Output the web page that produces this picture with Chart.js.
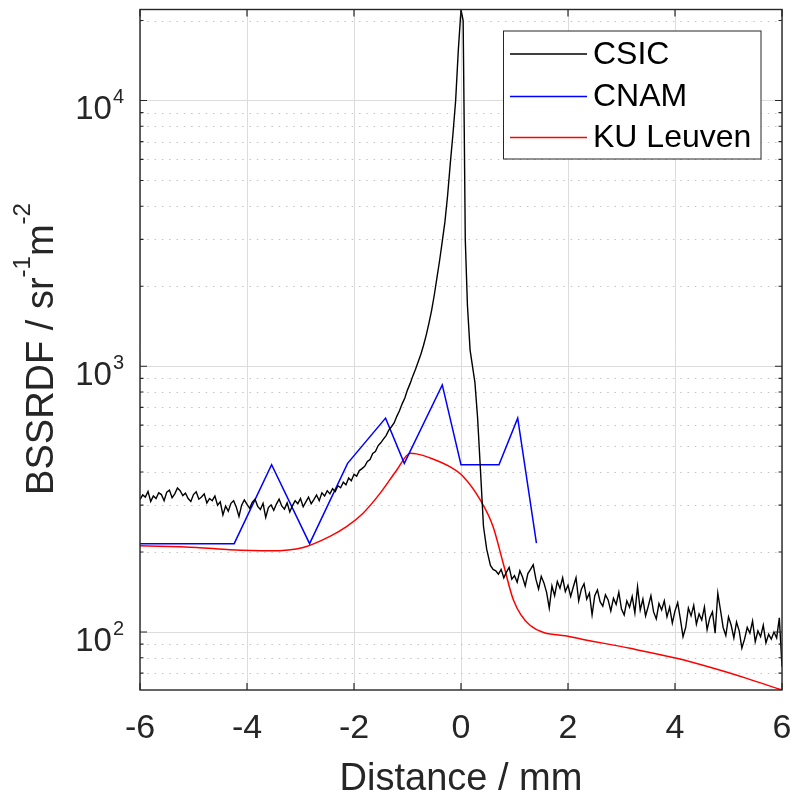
<!DOCTYPE html>
<html>
<head>
<meta charset="utf-8">
<script src="https://cdn.jsdelivr.net/npm/chart.js@4.4.0/dist/chart.umd.min.js"></script>
<style>
  html, body { margin: 0; padding: 0; background: #fff; }
</style>
</head>
<body>
<canvas id="chart" width="796" height="797"></canvas>
<script>
const csicX = [
  -6.00, -5.95, -5.90, -5.85, -5.80, -5.75, -5.70, -5.65, -5.60, -5.55,
  -5.50, -5.45, -5.40, -5.35, -5.30, -5.25, -5.20, -5.15, -5.10, -5.05,
  -5.00, -4.95, -4.90, -4.85, -4.80, -4.75, -4.70, -4.65, -4.60, -4.55,
  -4.50, -4.45, -4.40, -4.35, -4.30, -4.25, -4.20, -4.15, -4.10, -4.05,
  -4.00, -3.95, -3.90, -3.85, -3.80, -3.75, -3.70, -3.65, -3.60, -3.55,
  -3.50, -3.45, -3.40, -3.35, -3.30, -3.25, -3.20, -3.15, -3.10, -3.05,
  -3.00, -2.95, -2.90, -2.85, -2.80, -2.75, -2.70, -2.65, -2.60, -2.55,
  -2.50, -2.45, -2.40, -2.35, -2.30, -2.25, -2.20, -2.15, -2.10, -2.05,
  -2.00, -1.95, -1.90, -1.85, -1.80, -1.75, -1.70, -1.65, -1.60, -1.55,
  -1.50, -1.45, -1.40, -1.35, -1.30, -1.25, -1.20, -1.15, -1.10, -1.05,
  -1.00, -0.95, -0.90, -0.85, -0.80, -0.75, -0.70, -0.65, -0.60, -0.55,
  -0.50, -0.45, -0.40, -0.35, -0.30, -0.25, -0.20, -0.15, -0.10, -0.05,
  0.00, 0.04, 0.06, 0.08, 0.12, 0.17, 0.26, 0.31, 0.36, 0.42,
  0.48, 0.55, 0.60, 0.65, 0.70, 0.75, 0.80, 0.85, 0.90, 0.95,
  1.00, 1.05, 1.10, 1.15, 1.20, 1.25, 1.30, 1.35, 1.40, 1.45,
  1.50, 1.55, 1.60, 1.65, 1.70, 1.75, 1.80, 1.85, 1.90, 1.95,
  2.00, 2.05, 2.10, 2.15, 2.20, 2.25, 2.30, 2.35, 2.40, 2.45,
  2.50, 2.55, 2.60, 2.65, 2.70, 2.75, 2.80, 2.85, 2.90, 2.95,
  3.00, 3.05, 3.10, 3.15, 3.20, 3.25, 3.30, 3.35, 3.40, 3.45,
  3.50, 3.55, 3.60, 3.65, 3.70, 3.75, 3.80, 3.85, 3.90, 3.95,
  4.00, 4.05, 4.10, 4.15, 4.20, 4.25, 4.30, 4.35, 4.40, 4.45,
  4.50, 4.55, 4.60, 4.65, 4.70, 4.75, 4.80, 4.85, 4.90, 4.95,
  5.00, 5.05, 5.10, 5.15, 5.20, 5.25, 5.30, 5.35, 5.40, 5.45,
  5.50, 5.55, 5.60, 5.65, 5.70, 5.75, 5.80, 5.85, 5.90, 5.95,
  6.00
];
const csicY = [
  315, 328, 322, 338, 310, 325, 318, 334, 329, 312,
  336, 342, 320, 331, 348, 340, 326, 333, 318, 310,
  329, 337, 316, 322, 331, 306, 318, 312, 325, 300,
  309, 276, 298, 285, 305, 312, 295, 272, 300, 314,
  302, 292, 308, 316, 297, 289, 305, 270, 294, 301,
  287, 303, 316, 298, 290, 306, 283, 299, 312, 304,
  318, 296, 309, 322, 304, 315, 328, 312, 334, 325,
  340, 331, 346, 338, 355, 349, 366, 358, 380, 371,
  392, 386, 405, 412, 420, 438, 446, 470, 478, 502,
  515, 532, 548, 575, 592, 612, 648, 680, 722, 760,
  815, 862, 920, 975, 1040, 1110, 1200, 1310, 1450, 1620,
  1850, 2150, 2500, 2950, 3500, 4400, 5800, 7500, 10000, 15500,
  22000, 20000, 8000, 3000, 1700, 1150, 870, 640, 420, 250,
  205, 178, 172, 170, 165, 172, 160, 168, 175, 158,
  163, 154, 170, 161, 149, 166, 172, 179, 158, 145,
  162, 153, 141, 123, 149, 137, 155, 146, 160, 142,
  150, 136, 148, 160, 131, 145, 152, 133, 140, 116,
  137, 144, 130, 125, 138, 132, 120, 134, 127, 141,
  122, 116, 131, 124, 136, 118, 148, 121, 133, 115,
  125, 137, 119, 112, 128, 121, 131, 114, 124, 108,
  120, 129, 112, 96, 104, 123, 115, 126, 107, 117,
  111, 124, 102, 113, 119, 99, 140, 121, 104, 97,
  114, 106, 95, 109, 101, 87, 94, 104, 99, 110,
  92, 101, 96, 106, 91, 98, 94, 100, 95, 113,
  74
];

// CNAM measurement
const cnamX = [-6.0, -4.24, -3.54, -2.83, -2.12, -1.41, -1.06, -0.35, 0.0, 0.71, 1.06, 1.41];
const cnamY = [215, 215, 426, 215, 431, 638, 431, 851, 426, 426, 638, 216];

// KU Leuven measurement
const kuX = [-6.0, -4.94, -4.32, -3.57, -2.95, -2.45, -2.14, -1.83, -1.51, -1.2, -0.95, -0.83,
  -0.58, -0.21, 0.04, 0.36, 0.6, 0.79, 0.98, 1.29, 2.04, 3.16, 4.03, 4.72, 5.34, 6.0];
const kuY = [211, 208, 204, 202, 208, 229, 249, 280, 333, 407, 471, 468,
  452, 419, 385, 314, 249, 181, 132, 106, 96, 86.8, 79.6, 73, 66.9, 60.5];

// axes
const xTicks = [-6, -4, -2, 0, 2, 4, 6];
const yMajor = [100, 1000, 10000];
const yMinor = [70, 80, 90, 200, 300, 400, 500, 600, 700, 800, 900,
  2000, 3000, 4000, 5000, 6000, 7000, 8000, 9000, 20000];
const yMin = 60.5;
const yMax = 22000;

const FONT = "'Liberation Sans', Arial, Helvetica, sans-serif";
const AXIS_COLOR = "#262626";

function toPoints(xs, ys) {
  return xs.map((x, i) => ({ x: x, y: ys[i] }));
}

// MATLAB-ish box, ticks, minor grid, legend and titles
const matlabAxes = {
  id: "matlabAxes",
  beforeDatasetsDraw(chart) {
    const { ctx, chartArea: a, scales } = chart;
    const y = scales.y;
    ctx.save();
    ctx.strokeStyle = "#c4c4c4";
    ctx.lineWidth = 1;
    ctx.setLineDash([1.5, 5.8]);
    yMinor.forEach(v => {
      const py = Math.round(y.getPixelForValue(v)) + 0.5;
      ctx.beginPath();
      ctx.moveTo(a.left, py);
      ctx.lineTo(a.right, py);
      ctx.stroke();
    });
    ctx.restore();
  },
  afterDatasetsDraw(chart) {
    const { ctx, chartArea: a, scales } = chart;
    const x = scales.x, y = scales.y;
    ctx.save();
    ctx.strokeStyle = AXIS_COLOR;
    ctx.lineWidth = 1.4;
    ctx.strokeRect(a.left, a.top, a.right - a.left, a.bottom - a.top);

    // tick marks pointing inwards
    ctx.lineWidth = 1.2;
    ctx.beginPath();
    xTicks.forEach(v => {
      const px = x.getPixelForValue(v);
      ctx.moveTo(px, a.bottom); ctx.lineTo(px, a.bottom - 7);
      ctx.moveTo(px, a.top); ctx.lineTo(px, a.top + 7);
    });
    yMajor.forEach(v => {
      const py = y.getPixelForValue(v);
      ctx.moveTo(a.left, py); ctx.lineTo(a.left + 7, py);
      ctx.moveTo(a.right, py); ctx.lineTo(a.right - 7, py);
    });
    yMinor.forEach(v => {
      const py = y.getPixelForValue(v);
      ctx.moveTo(a.left, py); ctx.lineTo(a.left + 3.5, py);
      ctx.moveTo(a.right, py); ctx.lineTo(a.right - 3.5, py);
    });
    ctx.stroke();

    // legend
    const lx = 503.5, ly = 31, lw = 257.5, lh = 128;
    ctx.fillStyle = "#fff";
    ctx.fillRect(lx, ly, lw, lh);
    ctx.strokeStyle = AXIS_COLOR;
    ctx.lineWidth = 1;
    ctx.strokeRect(lx, ly, lw, lh);
    const rows = [54, 96.5, 137.5];
    ctx.font = "32px " + FONT;
    ctx.textBaseline = "middle";
    ctx.textAlign = "left";
    chart.data.datasets.forEach((ds, i) => {
      ctx.strokeStyle = ds.borderColor;
      ctx.lineWidth = 1.5;
      ctx.beginPath();
      ctx.moveTo(510, rows[i]);
      ctx.lineTo(587, rows[i]);
      ctx.stroke();
      ctx.fillStyle = "#000";
      ctx.fillText(ds.label, 593, rows[i] + 1);
    });
    ctx.restore();
  },
  afterDraw(chart) {
    const { ctx, chartArea: a, scales } = chart;
    const y = scales.y;
    ctx.save();
    ctx.fillStyle = AXIS_COLOR;
    ctx.textBaseline = "alphabetic";

    // y tick labels 10^n
    yMajor.forEach(v => {
      const py = y.getPixelForValue(v);
      const exp = String(Math.round(Math.log10(v)));
      ctx.font = "20px " + FONT;
      const ew = ctx.measureText(exp).width;
      ctx.textAlign = "left";
      ctx.fillText(exp, 124 - ew, py + 3);
      ctx.font = "33px " + FONT;
      ctx.textAlign = "right";
      ctx.fillText("10", 124 - ew - 1, py + 19);
    });

    // x title
    ctx.font = "38px " + FONT;
    ctx.textAlign = "center";
    ctx.fillText("Distance / mm", (a.left + a.right) / 2, 790);

    // y title with superscripts
    const parts = [
      { t: "BSSRDF / sr", sup: false },
      { t: "-1", sup: true },
      { t: "m", sup: false },
      { t: "-2", sup: true }
    ];
    const big = "38px " + FONT, small = "24px " + FONT;
    let total = 0;
    parts.forEach(p => {
      ctx.font = p.sup ? small : big;
      p.w = ctx.measureText(p.t).width;
      total += p.w;
    });
    ctx.translate(53, 349);
    ctx.rotate(-Math.PI / 2);
    ctx.textAlign = "left";
    let cx = -total / 2;
    parts.forEach(p => {
      ctx.font = p.sup ? small : big;
      ctx.fillText(p.t, cx, p.sup ? -23 : 0);
      cx += p.w;
    });
    ctx.restore();
  }
};

new Chart(document.getElementById("chart"), {
  type: "line",
  data: {
    datasets: [
      {
        label: "CSIC",
        data: toPoints(csicX, csicY),
        borderColor: "#000000",
        borderWidth: 1.4,
        pointRadius: 0,
        tension: 0
      },
      {
        label: "CNAM",
        data: toPoints(cnamX, cnamY),
        borderColor: "#0000ff",
        borderWidth: 1.5,
        pointRadius: 0,
        tension: 0
      },
      {
        label: "KU Leuven",
        data: toPoints(kuX, kuY),
        borderColor: "#ff0000",
        borderWidth: 1.5,
        pointRadius: 0,
        cubicInterpolationMode: "monotone"
      }
    ]
  },
  options: {
    responsive: false,
    animation: false,
    devicePixelRatio: 1,
    layout: { padding: { top: 9.5, right: 14, left: 0, bottom: 0 } },
    plugins: {
      legend: { display: false },
      tooltip: { enabled: false }
    },
    scales: {
      x: {
        type: "linear",
        min: -6,
        max: 6,
        afterBuildTicks: s => { s.ticks = xTicks.map(v => ({ value: v })); },
        afterFit: s => { s.height = 107; s.paddingLeft = 0; s.paddingRight = 0; },
        ticks: {
          font: { family: FONT, size: 34 },
          color: AXIS_COLOR,
          padding: 18,
          maxRotation: 0,
          callback: v => String(v)
        },
        grid: { color: "#dcdcdc", lineWidth: 1, drawTicks: false },
        border: { display: false }
      },
      y: {
        type: "logarithmic",
        min: yMin,
        max: yMax,
        afterBuildTicks: s => { s.ticks = yMajor.map(v => ({ value: v })); },
        afterFit: s => { s.width = 140; s.paddingTop = 0; s.paddingBottom = 0; },
        ticks: { display: false },
        grid: { color: "#dcdcdc", lineWidth: 1, drawTicks: false },
        border: { display: false }
      }
    }
  },
  plugins: [matlabAxes]
});
</script>
</body>
</html>
